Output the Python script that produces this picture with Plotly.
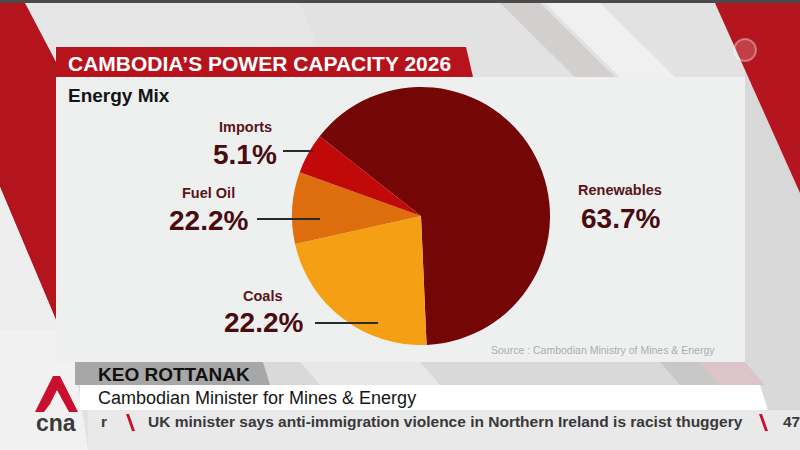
import plotly.graph_objects as go

# ---------------- data ----------------
categories = ["Renewables", "Coals", "Fuel Oil", "Imports"]
slice_shares = [63.7, 22.2, 9.0, 5.1]
# percentage labels as printed on the graphic
label_texts = ["63.7%", "22.2%", "22.2%", "5.1%"]
slice_colors = ["#740606", "#f49f14", "#de6d0d", "#c20909"]

title_text = "CAMBODIA’S POWER CAPACITY 2026"
subtitle_text = "Energy Mix"
source_text = "Source : Cambodian Ministry of Mines & Energy"
name_text = "KEO ROTTANAK"
role_text = "Cambodian Minister for Mines & Energy"
ticker_text = "UK minister says anti-immigration violence in Northern Ireland is racist thuggery"

W, H = 800, 450
FONT = "Liberation Sans, Arial, sans-serif"

fig = go.Figure()
fig.add_trace(go.Scatter(x=[], y=[], showlegend=False, hoverinfo="skip"))

# pie: centre (421,216), radius 129 px
fig.add_trace(go.Pie(
    labels=categories, values=slice_shares, sort=False,
    direction="clockwise", rotation=-51.8,
    marker=dict(colors=slice_colors, line=dict(width=0)),
    textinfo="none", hoverinfo="skip", showlegend=False,
    domain=dict(x=[292 / W, 550 / W], y=[1 - 345 / H, 1 - 87 / H]),
))

shapes = []


def poly(pts, color, layer="below"):
    path = "M " + " L ".join(f"{x},{y}" for x, y in pts) + " Z"
    shapes.append(dict(type="path", path=path, xref="x", yref="y",
                       fillcolor=color, line=dict(width=0), layer=layer))


def rect(x0, y0, x1, y1, color, layer="below"):
    shapes.append(dict(type="rect", x0=x0, y0=y0, x1=x1, y1=y1, xref="x", yref="y",
                       fillcolor=color, line=dict(width=0), layer=layer))


# background
rect(0, 0, 800, 450, "#e2e2e2")
rect(0, 0, 800, 3, "#4a4a4a")
# top area stripes
poly([(25, 3), (300, 3), (330, 77), (56, 77)], "#e6e6e6")
poly([(500, 3), (540, 3), (615, 77), (575, 77)], "#d3cfcf")
poly([(545, 3), (600, 3), (675, 77), (620, 77)], "#f0f0f0")
# right gray area
rect(745, 60, 800, 362, "#d8d8d8")
# left red
poly([(0, 3), (25, 3), (56, 62), (56, 320), (0, 187)], "#b3141d")
poly([(0, 187), (56, 320), (56, 450), (0, 450)], "#eeeeee")
# right red
poly([(715, 3), (800, 3), (800, 193)], "#b5151f")
# faint logo top right
shapes.append(dict(type="circle", x0=734, y0=39, x1=756, y1=61, xref="x", yref="y",
                   fillcolor="rgba(255,255,255,0.18)",
                   line=dict(width=2, color="rgba(255,255,255,0.35)"), layer="below"))
# main panel
rect(56, 77, 745, 362, "#eef0f0")
# title band
poly([(56, 47), (466, 47), (473, 77), (56, 77)], "#b7131c")
# below panel
rect(56, 362, 800, 410, "#d9d9d9")
poly([(300, 362), (420, 362), (440, 385), (320, 385)], "#e8e8e8")
poly([(660, 362), (700, 362), (720, 385), (680, 385)], "#c8c8c8")
poly([(700, 362), (745, 362), (765, 385), (720, 385)], "#dcc4c8")
# lower-left light area
poly([(0, 330), (56, 330), (56, 362), (75, 362), (88, 450), (0, 450)], "#f1f1f1")
# name band
poly([(75, 362), (263, 362), (270, 385), (75, 385)], "#a7a7a7")
# role band
poly([(80, 385), (760, 385), (768, 410), (80, 410)], "#ffffff")
# ticker band
rect(88, 410, 800, 450, "#e9e9e9")
# ticker red slashes
for sx in (126, 759):
    poly([(sx, 414), (sx + 3, 414), (sx + 9, 431), (sx + 6, 431)], "#c8102e", layer="above")
# cna logo mark
poly([(35, 412), (53, 376), (60, 376), (78, 412), (69, 412), (57, 390), (50, 404), (44, 412)],
     "#c8102e", layer="above")

# leader lines
line_pts = [((283, 151), (313, 151)), ((257, 219), (320, 219)), ((315, 323), (378, 323))]
for (x0, y0), (x1, y1) in line_pts:
    shapes.append(dict(type="line", x0=x0, y0=y0, x1=x1, y1=y1, xref="x", yref="y",
                       line=dict(color="#2b2b2b", width=2), layer="above"))

annotations = []


def txt(x, y, s, size, color, weight="normal", xanchor="center", family=FONT):
    annotations.append(dict(x=x, y=y, xref="x", yref="y", text=s, showarrow=False,
                            xanchor=xanchor, yanchor="middle", borderpad=0,
                            font=dict(family=family, size=size, color=color, weight=weight)))


txt(67, 63, title_text, 21, "#ffffff", "bold", "left")
txt(67, 95, subtitle_text, 19, "#141414", "bold", "left")

# slice labels: category name above the printed percentage
label_pos = {  # category -> (x, y of name, y of percentage)
    "Renewables": (620, 190, 218),
    "Coals": (263, 296, 322),
    "Fuel Oil": (208, 193, 220),
    "Imports": (245, 127, 154),
}
for cat, pct in zip(categories, label_texts):
    x, yn, yp = label_pos[cat]
    txt(x, yn, cat, 14.5, "#5a1418", "bold")
    txt(x, yp, pct, 28, "#4a0b10", "bold")

txt(716, 350, source_text, 10.5, "#a9adb1", "normal", "right")

txt(97, 374, name_text, 19, "#111111", "bold", "left")
txt(97, 398, role_text, 18, "#151515", "normal", "left")
txt(100, 421, "r", 15.5, "#3a3a3a", "bold", "left")
txt(147, 421, ticker_text, 15.5, "#383838", "bold", "left")
txt(782, 421, "47", 15.5, "#383838", "bold", "left")
txt(56, 423, "cna", 23, "#3a3a3a", "bold", "center")

fig.update_layout(
    width=W, height=H, margin=dict(l=0, r=0, t=0, b=0),
    paper_bgcolor="#e2e2e2", plot_bgcolor="rgba(0,0,0,0)",
    xaxis=dict(range=[0, W], visible=False, domain=[0, 1], fixedrange=True),
    yaxis=dict(range=[H, 0], visible=False, domain=[0, 1], fixedrange=True),
    shapes=shapes, annotations=annotations, showlegend=False,
)

fig.write_html("out.html")
